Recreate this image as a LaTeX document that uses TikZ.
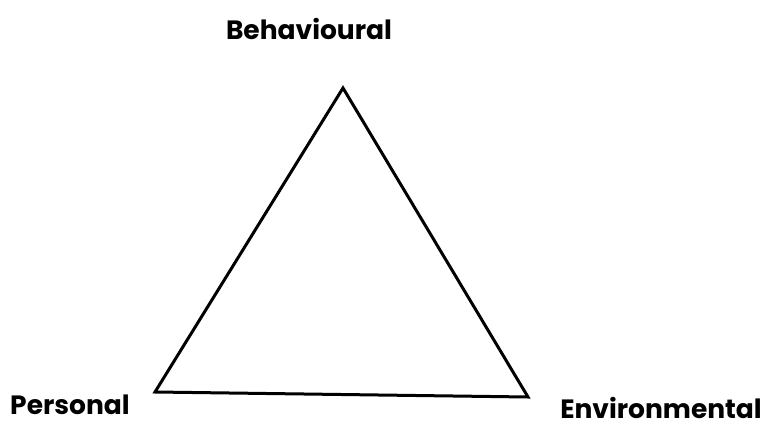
\documentclass[tikz,border=0pt]{standalone}
\usepackage{fontspec}
\setmainfont{Poppins}[BoldFont={Poppins Bold}]
\begin{document}
\begin{tikzpicture}[x=1pt,y=-1pt,
  lbl/.style={font=\bfseries\fontsize{26.5}{28}\selectfont, inner sep=0pt},
  tri/.style={draw=black, line width=3pt, line join=miter}]
\useasboundingbox (0,0) rectangle (769,426);
\coordinate (B) at (343,88);
\coordinate (P) at (155,392);
\coordinate (E) at (528,397);
\draw[tri] (B) -- (P) -- (E) -- cycle;
\node[lbl] (lb) at (309,29) {Behavioural};
\node[lbl] (lp) at (70,405) {Personal};
\node[lbl, anchor=base] (le) at (661,418) {Environmental};
\end{tikzpicture}
\end{document}
